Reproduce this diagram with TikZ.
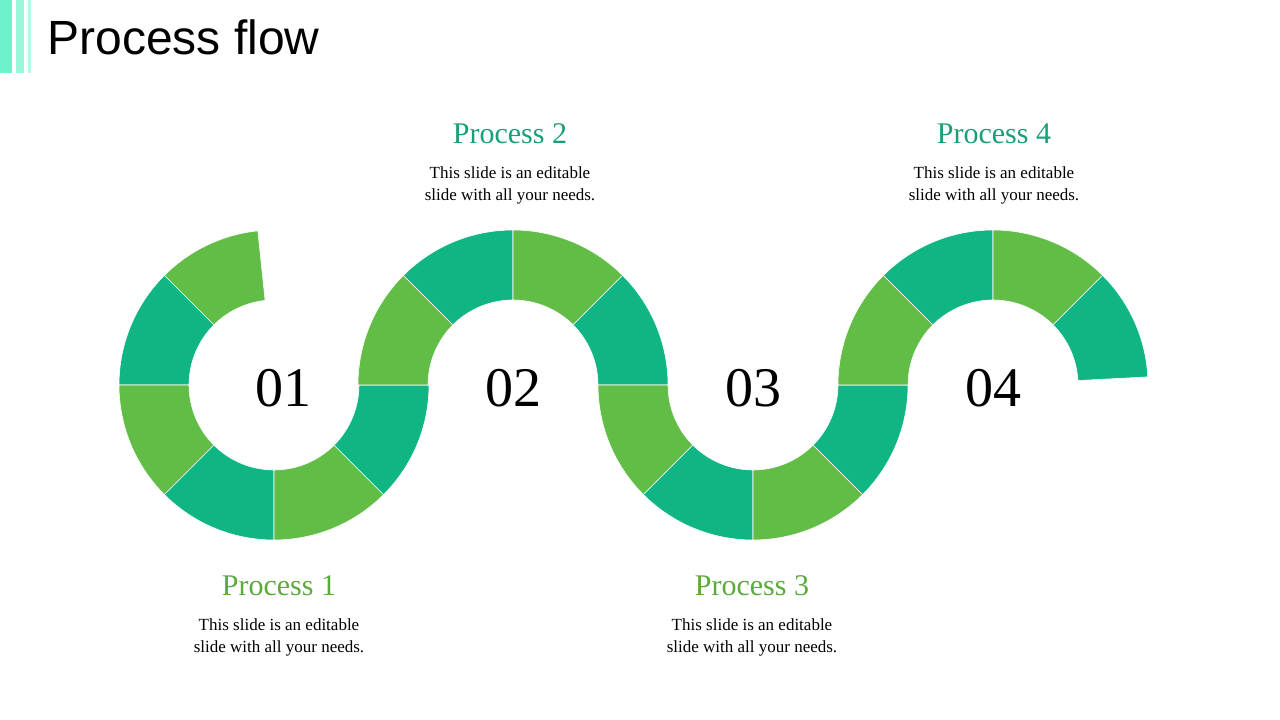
\documentclass[tikz,border=0pt]{standalone}
\usepackage{fontspec}
\setmainfont{Liberation Serif}
\newfontfamily\titlefont{Liberation Sans}
\usetikzlibrary{calc}
\definecolor{gr}{HTML}{62BD47}
\definecolor{tl}{HTML}{10B584}
\definecolor{bar}{HTML}{6EF2CC}
\definecolor{hgr}{HTML}{5BAA3C}
\definecolor{htl}{HTML}{17A077}
\newcommand{\myseg}[4]{\fill[#4,draw=white,line width=0.6pt] ($(#1,335)+(#2:155)$) arc[start angle=#2,end angle=#3,radius=155] -- ($(#1,335)+(#3:85)$) arc[start angle=#3,end angle=#2,radius=85] -- cycle;}
\tikzset{num/.style={font=\fontsize{56}{60}\selectfont},
head/.style={font=\fontsize{30}{34}\selectfont},
body/.style={font=\fontsize{17}{22}\selectfont,align=center}}
\begin{document}
\begin{tikzpicture}[x=1pt,y=1pt]
\useasboundingbox (0,0) rectangle (1280,720);
\fill[bar] (0,720) rectangle (12,647);
\fill[bar!70] (16,720) rectangle (24,647);
\fill[bar!50] (28,720) rectangle (31,647);
\node[anchor=west,font=\titlefont\fontsize{48}{52}\selectfont] (title) at (44,683) {Process flow};
% circle 1
\myseg{274}{96}{135}{gr}
\myseg{274}{135}{180}{tl}
\myseg{274}{180}{225}{gr}
\myseg{274}{225}{270}{tl}
\myseg{274}{270}{315}{gr}
\myseg{274}{315}{360}{tl}
% circle 2
\myseg{513}{135}{180}{gr}
\myseg{513}{90}{135}{tl}
\myseg{513}{45}{90}{gr}
\myseg{513}{0}{45}{tl}
% circle 3
\myseg{753}{180}{225}{gr}
\myseg{753}{225}{270}{tl}
\myseg{753}{270}{315}{gr}
\myseg{753}{315}{360}{tl}
% circle 4
\myseg{993}{135}{180}{gr}
\myseg{993}{90}{135}{tl}
\myseg{993}{45}{90}{gr}
\myseg{993}{3}{45}{tl}
\node[num] (n1) at (283,332) {01};
\node[num] (n2) at (513,332) {02};
\node[num] (n3) at (753,332) {03};
\node[num] (n4) at (993,332) {04};
\node[head,text=hgr] (h1) at (279,134) {Process 1};
\node[body] (b1) at (279,83) {This slide is an editable\\slide with all your needs.};
\node[head,text=htl] (h2) at (510,586) {Process 2};
\node[body] (b2) at (510,535) {This slide is an editable\\slide with all your needs.};
\node[head,text=hgr] (h3) at (752,134) {Process 3};
\node[body] (b3) at (752,83) {This slide is an editable\\slide with all your needs.};
\node[head,text=htl] (h4) at (994,586) {Process 4};
\node[body] (b4) at (994,535) {This slide is an editable\\slide with all your needs.};
\end{tikzpicture}
\end{document}
